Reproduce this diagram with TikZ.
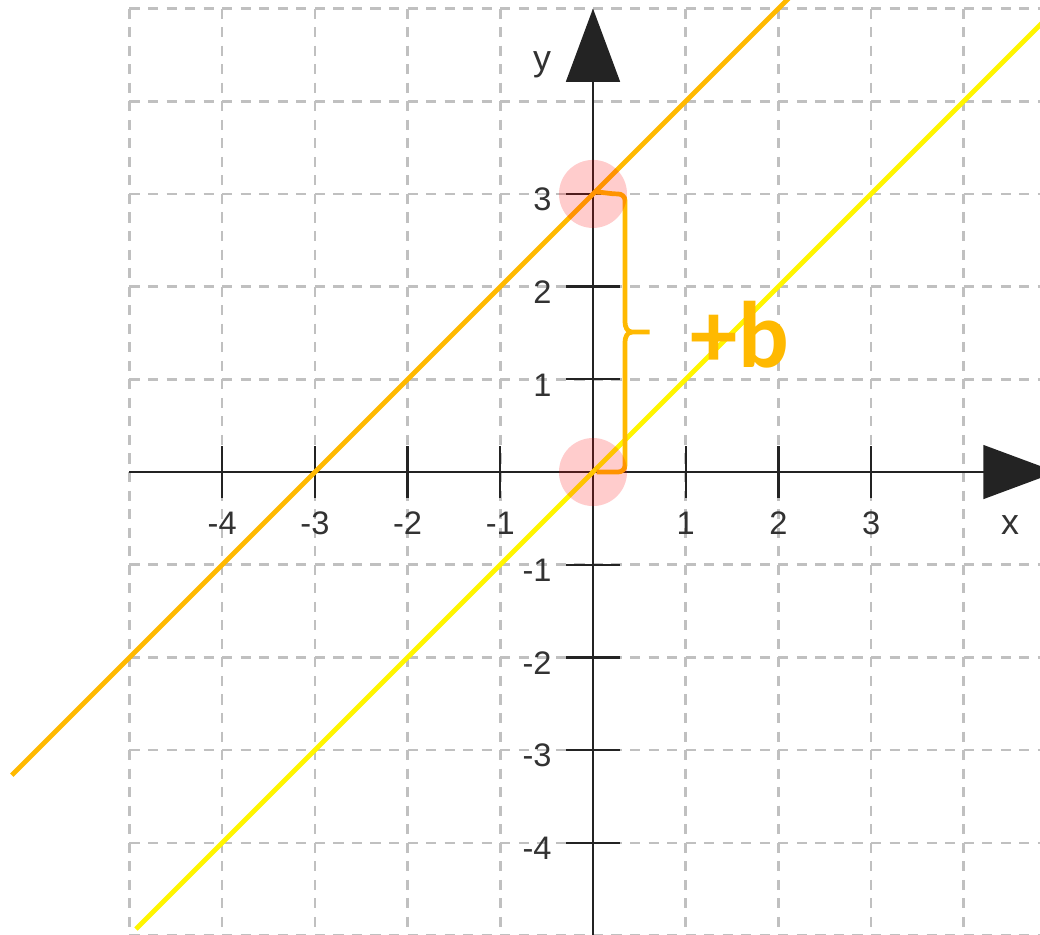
\documentclass[tikz,border=0pt]{standalone}
\usepackage{fontspec}
\setmainfont{Liberation Sans}
\newfontfamily\bfont{Carlito}
\usetikzlibrary{arrows.meta}
\definecolor{gridgray}{RGB}{192,192,192}
\definecolor{orangeline}{RGB}{255,185,0}
\definecolor{yellowline}{RGB}{255,245,0}
\definecolor{axiscol}{RGB}{35,35,35}
\definecolor{labelcol}{RGB}{50,50,50}
\tikzset{
  gridline/.style={gridgray, line width=0.8pt, dash pattern=on 3.1pt off 2.59pt},
  axisline/.style={axiscol, line width=0.7pt},
  tickmark/.style={axiscol, line width=0.7pt},
  ticklabel/.style={font=\fontsize{10}{12}\selectfont, text=labelcol, inner sep=0pt},
  axisname/.style={font=\fontsize{11}{13}\selectfont, text=labelcol, inner sep=0pt},
  graphline/.style={line width=1.45pt},
  bracestyle/.style={orangeline, line width=1.45pt},
  marker/.style={fill=red, opacity=0.2},
}
\begin{document}
\begin{tikzpicture}
\useasboundingbox (-6.397,-4.984) rectangle (4.822,5.092);
\begin{scope}
\clip (-6.397,-4.984) rectangle (4.822,5.092);
% grid
\foreach \x in {-5,...,4} \draw[gridline] (\x,5) -- (\x,-5.2);
\foreach \y in {5,...,-5} \draw[gridline] (-5,\y) -- (5,\y);
% axes
\coordinate (xs) at (-5,0);
\coordinate (xe) at (5,0);
\coordinate (ys) at (0,-5.2);
\coordinate (ye) at (0,5);
\draw[axisline, -{Triangle[length=0.79cm,width=0.58cm]}] (xs) -- (xe);
\draw[axisline, -{Triangle[length=0.79cm,width=0.58cm]}] (ys) -- (ye);
% ticks
\foreach \x in {-4,-3,-2,-1,1,2,3} {
  \draw[tickmark] (\x,-0.28) -- (\x,0.28);
  \node[ticklabel] at (\x,-0.55) {\x};
}
\foreach \y in {-4,-3,-2,-1,1,2,3} {
  \draw[tickmark] (-0.29,\y) -- (0.29,\y);
  \node[ticklabel, anchor=east] at (-0.44,\y-0.06) {\y};
}
\node[axisname] (yname) at (-0.55,4.39) {y};
\node[axisname] (xname) at (4.5,-0.57) {x};
% lines
\draw[graphline, orangeline] (-6.27,-3.27) -- (3,6);
\draw[graphline, yellowline] (-4.93,-4.93) -- (6,6);
% brace
\draw[bracestyle] (0.02,3.02) to[out=0,in=180] (0.27,3.0) to[out=0,in=90] (0.345,2.93) -- (0.345,1.62) to[out=-90,in=180] (0.42,1.51) -- (0.61,1.51);
\draw[bracestyle] (0.42,1.51) to[out=180,in=90] (0.345,1.40) -- (0.345,0.07) to[out=-90,in=0] (0.27,0.0) -- (0.04,0.0);
% markers
\fill[marker] (0,3) circle (0.367);
\fill[marker] (0,0) circle (0.367);
% label
\node[anchor=base west, text=orangeline, font=\bfont\bfseries\fontsize{29}{30}\selectfont, inner sep=0pt] (blabel) at (1.05,1.133) {+b};
\end{scope}
\end{tikzpicture}
\end{document}
